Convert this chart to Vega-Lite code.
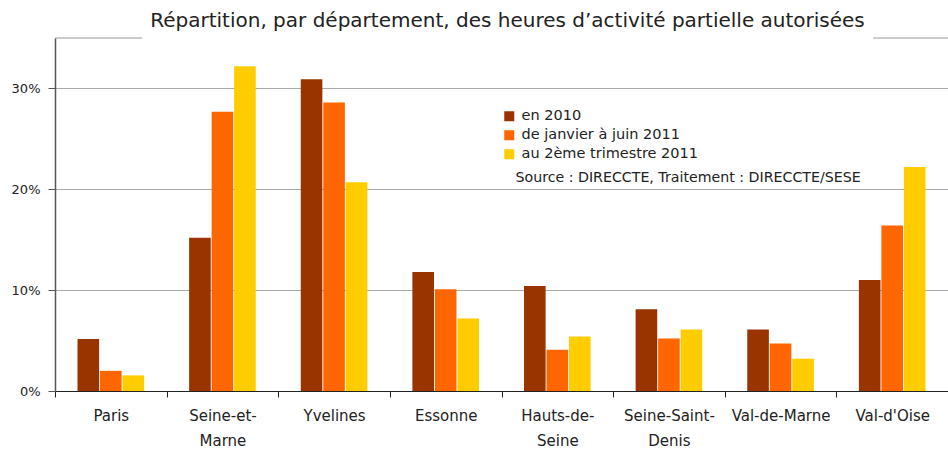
{
  "$schema": "https://vega.github.io/schema/vega-lite/v6.json",
  "width": 893,
  "height": 353,
  "autosize": {"type": "none"},
  "padding": {"left": 55, "top": 38, "right": 0, "bottom": 58},
  "background": "white",
  "config": {"view": {"stroke": null}, "font": "DejaVu Sans"},
  "title": {
    "text": "Répartition, par département, des heures d’activité partielle autorisées",
    "fontSize": 20,
    "fontWeight": "normal",
    "color": "#222",
    "anchor": "middle",
    "offset": 7,
    "dx": 6
  },
  "data": {
    "values": [
      {"dept": "Paris", "serie": "en 2010", "value": 0.0515},
      {"dept": "Paris", "serie": "de janvier à juin 2011", "value": 0.020},
      {"dept": "Paris", "serie": "au 2ème trimestre 2011", "value": 0.0155},
      {"dept": "Seine-et-Marne", "serie": "en 2010", "value": 0.152},
      {"dept": "Seine-et-Marne", "serie": "de janvier à juin 2011", "value": 0.277},
      {"dept": "Seine-et-Marne", "serie": "au 2ème trimestre 2011", "value": 0.322},
      {"dept": "Yvelines", "serie": "en 2010", "value": 0.309},
      {"dept": "Yvelines", "serie": "de janvier à juin 2011", "value": 0.286},
      {"dept": "Yvelines", "serie": "au 2ème trimestre 2011", "value": 0.207},
      {"dept": "Essonne", "serie": "en 2010", "value": 0.118},
      {"dept": "Essonne", "serie": "de janvier à juin 2011", "value": 0.101},
      {"dept": "Essonne", "serie": "au 2ème trimestre 2011", "value": 0.072},
      {"dept": "Hauts-de-Seine", "serie": "en 2010", "value": 0.104},
      {"dept": "Hauts-de-Seine", "serie": "de janvier à juin 2011", "value": 0.041},
      {"dept": "Hauts-de-Seine", "serie": "au 2ème trimestre 2011", "value": 0.054},
      {"dept": "Seine-Saint-Denis", "serie": "en 2010", "value": 0.081},
      {"dept": "Seine-Saint-Denis", "serie": "de janvier à juin 2011", "value": 0.052},
      {"dept": "Seine-Saint-Denis", "serie": "au 2ème trimestre 2011", "value": 0.061},
      {"dept": "Val-de-Marne", "serie": "en 2010", "value": 0.061},
      {"dept": "Val-de-Marne", "serie": "de janvier à juin 2011", "value": 0.047},
      {"dept": "Val-de-Marne", "serie": "au 2ème trimestre 2011", "value": 0.032},
      {"dept": "Val-d'Oise", "serie": "en 2010", "value": 0.110},
      {"dept": "Val-d'Oise", "serie": "de janvier à juin 2011", "value": 0.164},
      {"dept": "Val-d'Oise", "serie": "au 2ème trimestre 2011", "value": 0.222}
    ]
  },
  "layer": [
    {
      "mark": {"type": "bar"},
      "encoding": {
        "x": {
          "field": "dept",
          "type": "nominal",
          "scale": {
            "domain": ["Paris", "Seine-et-Marne", "Yvelines", "Essonne", "Hauts-de-Seine", "Seine-Saint-Denis", "Val-de-Marne", "Val-d'Oise"],
            "paddingInner": 0,
            "paddingOuter": 0
          },
          "axis": {
            "title": null,
            "tickBand": "extent",
            "domainColor": "#222",
            "tickColor": "#222",
            "tickSize": 6,
            "labelFontSize": 15,
            "labelColor": "#222",
            "labelPadding": 11,
            "labelLineHeight": 25,
            "labelAngle": 0,
            "labelBaseline": "top",
            "labelExpr": "datum.value == 'Seine-et-Marne' ? ['Seine-et-','Marne'] : datum.value == 'Hauts-de-Seine' ? ['Hauts-de-','Seine'] : datum.value == 'Seine-Saint-Denis' ? ['Seine-Saint-','Denis'] : datum.label"
          }
        },
        "xOffset": {
          "field": "serie",
          "type": "nominal",
          "sort": ["en 2010", "de janvier à juin 2011", "au 2ème trimestre 2011"],
          "scale": {"paddingInner": 0.04, "paddingOuter": 1.06}
        },
        "y": {
          "field": "value",
          "type": "quantitative",
          "scale": {"domain": [0, 0.35], "nice": false},
          "axis": {
            "title": null,
            "format": ".0%",
            "values": [0, 0.1, 0.2, 0.3],
            "grid": true,
            "gridColor": "#aaa",
            "domainColor": "#555",
            "domainWidth": 1.5,
            "tickColor": "#555",
            "tickSize": 7,
            "labelPadding": 8,
            "labelFontSize": 13,
            "labelColor": "#222"
          }
        },
        "color": {
          "field": "serie",
          "type": "nominal",
          "scale": {
            "domain": ["en 2010", "de janvier à juin 2011", "au 2ème trimestre 2011"],
            "range": ["#993300", "#ff6600", "#ffcc00"]
          },
          "legend": {
            "orient": "none",
            "legendX": 447,
            "legendY": 71,
            "title": null,
            "symbolType": "square",
            "symbolSize": 100,
            "symbolStrokeWidth": 0,
            "labelFontSize": 14.5,
            "labelColor": "#222",
            "labelLimit": 400,
            "rowPadding": 4,
            "labelOffset": 5,
            "padding": 0
          }
        }
      }
    },
    {
      "data": {"values": [{}]},
      "mark": {"type": "rule", "color": "#999", "strokeWidth": 1},
      "encoding": {
        "x": {"datum": "Paris", "bandPosition": 0},
        "x2": {"datum": "Paris", "bandPosition": 0.78},
        "y": {"datum": 0.35, "type": "quantitative"}
      }
    },
    {
      "data": {"values": [{}]},
      "mark": {"type": "rule", "color": "#999", "strokeWidth": 1},
      "encoding": {
        "x": {"datum": "Val-d'Oise", "bandPosition": 0.33},
        "x2": {"datum": "Val-d'Oise", "bandPosition": 1},
        "y": {"datum": 0.35, "type": "quantitative"}
      }
    },
    {
      "data": {"values": [{}]},
      "mark": {"type": "text", "align": "left", "baseline": "middle", "fontSize": 14.2, "color": "#222"},
      "encoding": {
        "x": {"datum": "Hauts-de-Seine", "bandPosition": 0.125},
        "y": {"datum": 0.211, "type": "quantitative"},
        "text": {"value": "Source : DIRECCTE, Traitement : DIRECCTE/SESE"}
      }
    }
  ]
}
